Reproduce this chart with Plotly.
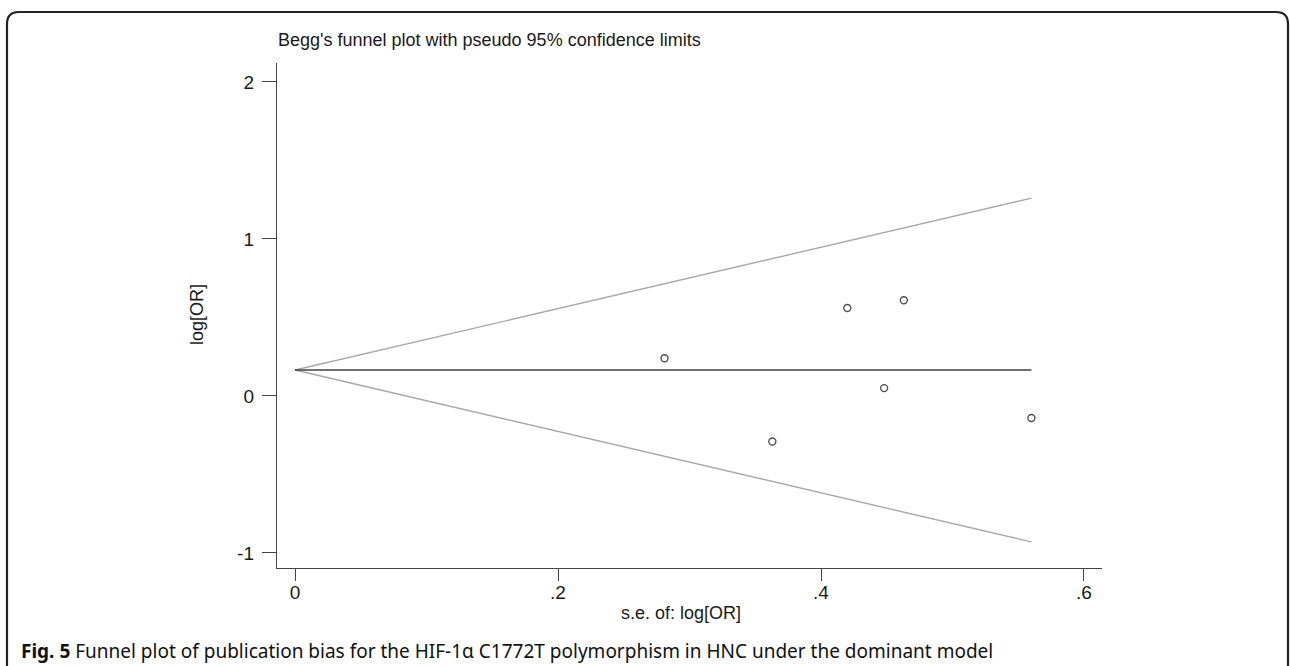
import plotly.graph_objects as go

# Study data (s.e. of log[OR], log[OR])
se = [0.281, 0.363, 0.420, 0.448, 0.463, 0.560]
log_or = [0.24, -0.29, 0.56, 0.05, 0.61, -0.14]

# Pooled estimate line and pseudo 95% confidence limits (end points)
line_se = [0.0, 0.560]
pooled = [0.165, 0.165]
upper = [0.165, 1.26]
lower = [0.165, -0.93]

x_ticks = [0, 0.2, 0.4, 0.6]
x_tick_text = ["0", ".2", ".4", ".6"]
y_ticks = [-1, 0, 1, 2]
y_tick_text = ["-1", "0", "1", "2"]

title_text = "Begg's funnel plot with pseudo 95% confidence limits"
x_title = "s.e. of: log[OR]"
y_title = "log[OR]"
caption_text = ("<b>Fig. 5</b> Funnel plot of publication bias for the HIF-1\u03b1 C1772T "
                "polymorphism in HNC under the dominant model")

W, H = 1290, 666
L, R, T, B = 277, 1102, 63, 568  # plot area in pixels

def px(x):
    return (x - L) / (R - L)

def py(y):
    return (B - y) / (B - T)

fig = go.Figure()
fig.add_trace(go.Scatter(x=line_se, y=upper, mode="lines",
                         line=dict(color="#a8a8a8", width=1.4), hoverinfo="skip"))
fig.add_trace(go.Scatter(x=line_se, y=lower, mode="lines",
                         line=dict(color="#a8a8a8", width=1.4), hoverinfo="skip"))
fig.add_trace(go.Scatter(x=line_se, y=pooled, mode="lines",
                         line=dict(color="#404040", width=1.5), hoverinfo="skip"))
fig.add_trace(go.Scatter(x=se, y=log_or, mode="markers",
                         marker=dict(symbol="circle-open", size=7,
                                     color="#505050", line=dict(width=1.4))))

fig.update_layout(
    width=W, height=H,
    margin=dict(l=L, r=W - R, t=T, b=H - B),
    paper_bgcolor="white", plot_bgcolor="white",
    showlegend=False,
    font=dict(family="Liberation Sans, Arial, sans-serif", color="#1a1a1a"),
)

fig.update_xaxes(
    range=[-0.0137, 0.6137], tickvals=x_ticks, ticktext=x_tick_text,
    showgrid=False, zeroline=False, showline=True, linecolor="#444", linewidth=1.4,
    ticks="outside", ticklen=12, tickwidth=1.3, tickcolor="#444",
    tickfont=dict(size=19, color="#1a1a1a"), ticklabelstandoff=-5,
)
fig.update_yaxes(
    range=[-1.096, 2.121], tickvals=y_ticks, ticktext=y_tick_text,
    showgrid=False, zeroline=False, showline=True, linecolor="#444", linewidth=1.4,
    ticks="outside", ticklen=14, tickwidth=1.3, tickcolor="#444",
    tickfont=dict(size=19, color="#1a1a1a"), ticklabelstandoff=4,
)

# title
fig.add_annotation(text=title_text, xref="paper", yref="paper",
                   x=px(276), y=py(40), xanchor="left", yanchor="middle",
                   showarrow=False, font=dict(size=18, color="#1a1a1a"))
# axis titles
fig.add_annotation(text=x_title, xref="paper", yref="paper",
                   x=px(681), y=py(613), xanchor="center", yanchor="middle",
                   showarrow=False, font=dict(size=18, color="#1a1a1a"))
fig.add_annotation(text=y_title, xref="paper", yref="paper", textangle=-90,
                   x=px(197), y=py(315), xanchor="center", yanchor="middle",
                   showarrow=False, font=dict(size=18, color="#1a1a1a"))
# caption
fig.add_annotation(text=caption_text, xref="paper", yref="paper",
                   x=px(19), y=py(651), xanchor="left", yanchor="middle",
                   showarrow=False,
                   font=dict(family="Noto Sans, Open Sans, sans-serif", size=19, color="#111"))

# rounded outer frame
l_, r_, t_, b_ = px(7), px(1288), py(12), py(690)
rx, ry = 12 / (R - L), 12 / (B - T)
path = (f"M {l_},{b_} L {l_},{t_ - ry} Q {l_},{t_} {l_ + rx},{t_} "
        f"L {r_ - rx},{t_} Q {r_},{t_} {r_},{t_ - ry} L {r_},{b_}")
fig.add_shape(type="path", path=path, xref="paper", yref="paper",
              line=dict(color="#222", width=2.2))

fig.write_html("out.html", config={"displayModeBar": False},
               post_script="document.body.style.margin='0px';")
